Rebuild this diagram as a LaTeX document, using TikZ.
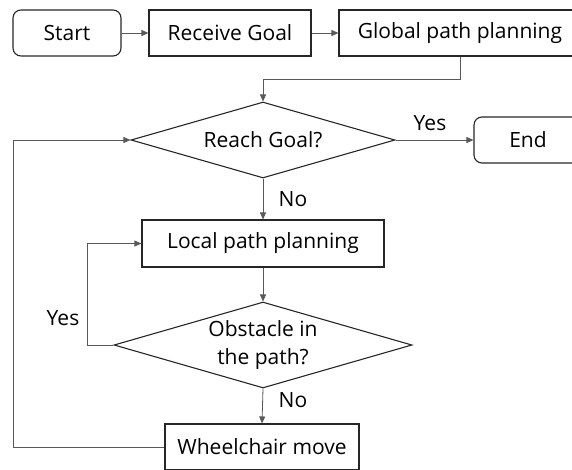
\documentclass[tikz,border=0pt]{standalone}
\usepackage{fontspec}
\setmainfont{Open Sans}
\usetikzlibrary{arrows.meta,shapes.geometric}

\begin{document}
\begin{tikzpicture}[x=1pt,y=-1pt,
  font=\fontsize{21}{25}\selectfont,
  box/.style={draw=black!85, line width=1.1pt, inner sep=0pt, minimum height=46pt},
  terminal/.style={box, rounded corners=8pt, minimum width=108pt},
  decision/.style={draw=black!85, line width=1.1pt, shape=diamond, aspect=3.47,
                   inner sep=0pt, align=center},
  flow/.style={draw=black!65, line width=0.8pt, -{Triangle[length=7pt,width=6pt]}},
  lbl/.style={inner sep=0pt}]
\clip (0,0) rectangle (572,469);

% top row
\node[terminal] (start) at (67,33) {Start};
\node[box, minimum width=162pt] (recv) at (230,33) {Receive Goal};
\node[box, minimum width=242pt] (global) at (460,33) {Global path planning};

% goal test and end
\node[decision, minimum width=264pt, minimum height=76pt] (reach) at (263,140) {Reach Goal?};
\node[terminal] (end) at (528,140) {End};

% local loop
\node[box, minimum width=242pt, minimum height=47pt] (local) at (263,243.5) {Local path planning};
\node[decision, minimum width=298pt, minimum height=86pt] (obst) at (263,345)
  {Obstacle in\\[3pt]the path?};
\node[box, minimum width=194pt] (wheel) at (262,447) {Wheelchair move};

% connectors
\draw[flow] (start) -- (recv);
\draw[flow] (recv) -- (global);
\draw[flow] (global.south) -- ++(0,23) -| (reach.north);
\draw[flow] (reach.east) -- (end.west);
\draw[flow] (reach.south) -- (local.north);
\draw[flow] (local.south) -- (obst.north);
\draw[flow] (obst.west) -- ++(-26,0) |- (local.west);
\draw[flow] (obst.south) -- (wheel.north);
\draw[flow] (wheel.west) -- ++(-151,0) |- (reach.west);

% branch labels
\node[lbl] (yes1) at (430,123) {Yes};
\node[lbl] (no1) at (293,199) {No};
\node[lbl] (yes2) at (63,318) {Yes};
\node[lbl] (no2) at (293,400) {No};
\end{tikzpicture}
\end{document}
